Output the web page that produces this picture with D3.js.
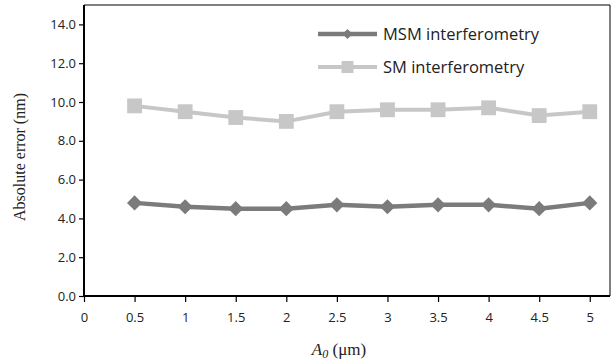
<!DOCTYPE html>
<html><head><meta charset="utf-8">
<script src="https://cdn.jsdelivr.net/npm/d3@7"></script>
<style>body{margin:0;background:#fff}svg{display:block}</style>
</head><body><svg id="c" width="611" height="363"></svg>
<script>
const xValues = [0.5, 1, 1.5, 2, 2.5, 3, 3.5, 4, 4.5, 5];
const msm = [4.8, 4.6, 4.5, 4.5, 4.7, 4.6, 4.7, 4.7, 4.5, 4.8];
const sm = [9.8, 9.5, 9.2, 9.0, 9.5, 9.6, 9.6, 9.7, 9.3, 9.5];
const xTicks = [0, 0.5, 1, 1.5, 2, 2.5, 3, 3.5, 4, 4.5, 5];
const yTicks = [0, 2, 4, 6, 8, 10, 12, 14];
const seriesNames = ["MSM interferometry", "SM interferometry"];

const svg = d3.select("#c");
const L = 84, R = 610, T = 5, B = 296;
const x = d3.scaleLinear().domain([0, 5.2]).range([L, R]);
const y = d3.scaleLinear().domain([0, 15]).range([B, T]);
const tickFont = "'Open Sans', 'DejaVu Sans', sans-serif";

// frame top/right
svg.append("path").attr("d", `M${L},${T}H${R}V${B}`).attr("fill","none").attr("stroke","#000").attr("stroke-width",1);

const yAxis = svg.append("g").attr("transform", `translate(${L},0)`)
  .call(d3.axisLeft(y).tickValues(yTicks).tickSize(5).tickSizeOuter(0).tickFormat(d3.format(".1f")));
const xAxis = svg.append("g").attr("transform", `translate(0,${B})`)
  .call(d3.axisBottom(x).tickValues(xTicks).tickSize(6).tickSizeOuter(0).tickFormat(d => d3.format("")(d)));
[yAxis, xAxis].forEach(g => {
  g.select(".domain").attr("stroke","#000").attr("stroke-width",2);
  g.selectAll(".tick line").attr("stroke","#000").attr("stroke-width",1.2);
  g.selectAll(".tick text").attr("font-family", tickFont).attr("font-size", 13).attr("fill","#222");
});
yAxis.selectAll(".tick text").attr("x", -8);
xAxis.selectAll(".tick text").attr("y", 17);
yAxis.select(".domain").attr("d", `M0,${T}V${B+1}`);
xAxis.select(".domain").attr("d", `M${L-1},0H${R}`);

const diamond = {draw(ctx, size){ const r = Math.sqrt(size/2); ctx.moveTo(0,-r); ctx.lineTo(r,0); ctx.lineTo(0,r); ctx.lineTo(-r,0); ctx.closePath(); }};
const series = [
  {name: seriesNames[0], values: msm, color: "#7b7b7b", shape: diamond, size: 115, lsize: 52, w: 4.5},
  {name: seriesNames[1], values: sm, color: "#c6c7c6", shape: d3.symbolSquare, size: 220, lsize: 144, w: 4}
];
const line = d3.line().x((d,i) => x(xValues[i])).y(d => y(d));
series.slice().reverse().forEach(s => {
  svg.append("path").datum(s.values).attr("d", line).attr("fill","none")
    .attr("stroke", s.color).attr("stroke-width", s.w).attr("stroke-linejoin","round");
  svg.selectAll(null).data(s.values).enter().append("path")
    .attr("d", d3.symbol().type(s.shape).size(s.size))
    .attr("transform", (d,i) => `translate(${x(xValues[i])},${y(d)})`)
    .attr("fill", s.color);
});

// legend
series.forEach((s, i) => {
  const ly = 34 + i * 33;
  svg.append("line").attr("x1", 318).attr("x2", 377).attr("y1", ly).attr("y2", ly)
    .attr("stroke", s.color).attr("stroke-width", s.w);
  svg.append("path").attr("d", d3.symbol().type(s.shape).size(s.lsize))
    .attr("transform", `translate(347.5,${ly})`).attr("fill", s.color);
  svg.append("text").attr("x", 383).attr("y", ly + 5.5).text(s.name)
    .attr("font-family", tickFont).attr("font-size", 16.5).attr("fill","#222");
});

// axis titles
svg.append("text").attr("transform", "translate(25,157) rotate(-90)").attr("text-anchor","middle")
  .attr("font-family","'Liberation Serif', 'Times New Roman', serif").attr("font-size", 16).attr("fill","#222")
  .text("Absolute error (nm)");
const xt = svg.append("text").attr("x", 339).attr("y", 355).attr("text-anchor","middle")
  .attr("font-family","'Liberation Serif', 'Times New Roman', serif").attr("font-size", 17).attr("fill","#222");
xt.append("tspan").attr("font-style","italic").text("A");
xt.append("tspan").attr("font-style","italic").attr("font-size", 12).attr("dy", 3).text("0");
xt.append("tspan").attr("dy", -3).text(" (\u03bcm)");
</script></body></html>
